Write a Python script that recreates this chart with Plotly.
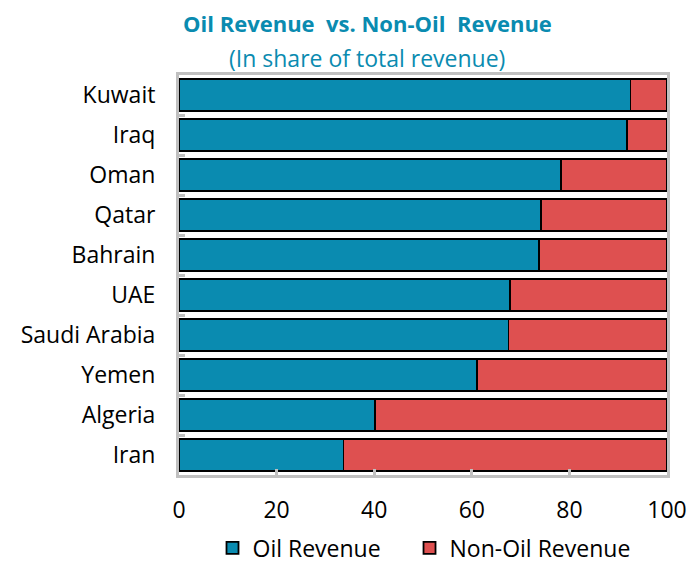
import plotly.graph_objects as go

countries = ["Kuwait", "Iraq", "Oman", "Qatar", "Bahrain", "UAE",
             "Saudi Arabia", "Yemen", "Algeria", "Iran"]
oil = [92.5, 91.8, 78.3, 74.2, 73.8, 67.8, 67.5, 61.1, 40.1, 33.7]
non_oil = [round(100 - v, 1) for v in oil]
x_ticks = [0, 20, 40, 60, 80, 100]

BLUE = "#0a8bb0"
RED = "#de5050"
FONT = "Open Sans"

L, T, PW, PH = 171, 67, 488, 400
W, H = 700, 577
R, B = W - L - PW, H - T - PH


def px_x(x):
    return (x - L) / PW


def px_y(y):
    return (T + PH - y) / PH


fig = go.Figure()
fig.add_trace(go.Bar(y=countries, x=oil, orientation="h", name="Oil Revenue" + "\u00a0" * 4,
                     marker=dict(color=BLUE, line=dict(color="black", width=1.8))))
fig.add_trace(go.Bar(y=countries, x=non_oil, orientation="h", name="Non-Oil Revenue",
                     marker=dict(color=RED, line=dict(color="black", width=1.8))))

fig.update_layout(
    width=W, height=H,
    barmode="stack", bargap=0.2,
    plot_bgcolor="white", paper_bgcolor="white",
    margin=dict(l=L, r=R, t=T, b=B, autoexpand=False),
    font=dict(family=FONT, size=23, color="black"),
    showlegend=True,
    legend=dict(orientation="h", x=px_x(416), xanchor="center",
                y=px_y(540), yanchor="middle",
                font=dict(size=23), traceorder="normal", itemwidth=30),
    annotations=[
        dict(text="<b>Oil Revenue  vs. Non-Oil  Revenue</b>", x=px_x(359), y=px_y(15),
             xref="paper", yref="paper", showarrow=False, xanchor="center", yanchor="middle",
             font=dict(size=22, color=BLUE, family=FONT)),
        dict(text="(In share of total revenue)", x=px_x(359), y=px_y(50),
             xref="paper", yref="paper", showarrow=False, xanchor="center", yanchor="middle",
             font=dict(size=23, color=BLUE, family=FONT)),
    ],
)

fig.update_xaxes(range=[0, 100], tickvals=x_ticks, ticktext=[str(v) for v in x_ticks],
                 showgrid=False, zeroline=False,
                 showline=True, mirror=True, linecolor="#c0c0c0", linewidth=3,
                 ticks="inside", ticklen=6, tickwidth=3, tickcolor="#c0c0c0",
                 ticklabelstandoff=12, tickfont=dict(size=23))
fig.update_yaxes(categoryorder="array", categoryarray=countries, autorange="reversed",
                 showgrid=False, zeroline=False,
                 showline=True, mirror=True, linecolor="#c0c0c0", linewidth=3,
                 ticks="inside", tickson="boundaries", ticklen=6, tickwidth=3,
                 tickcolor="#c0c0c0", ticklabelstandoff=16, tickfont=dict(size=23))

fig.write_html("out.html")
